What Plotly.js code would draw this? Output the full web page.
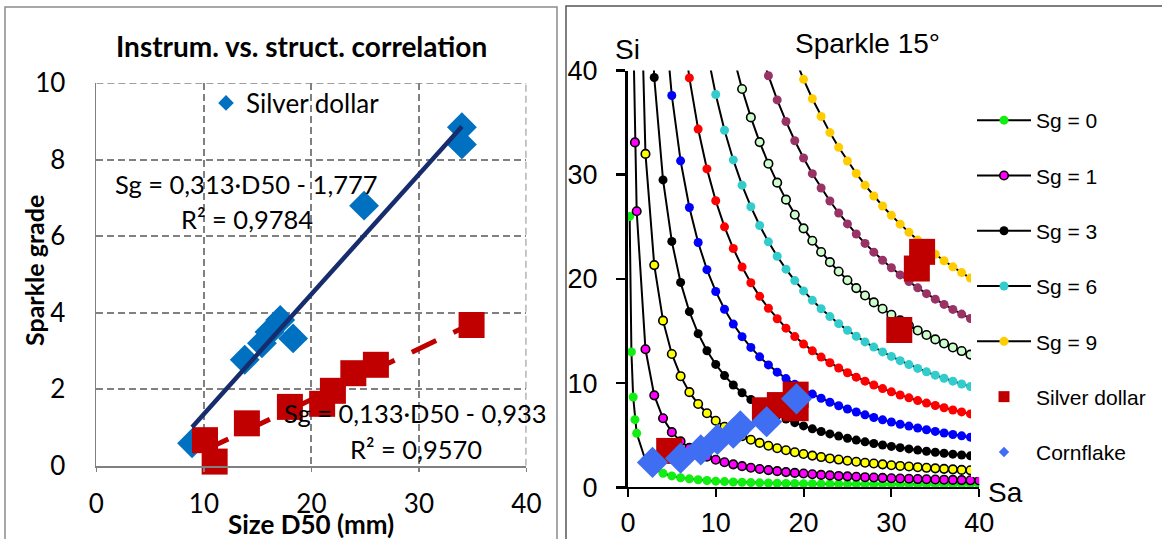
<!DOCTYPE html>
<html>
<head>
<meta charset="utf-8">
<script src="https://cdn.plot.ly/plotly-3.0.1.min.js"></script>
<style>
html,body{margin:0;padding:0;background:#fff;}
#chart{width:1162px;height:539px;}
</style>
</head>
<body>
<div id="chart"></div>
<script>
// ---------- Left panel data ----------
const d50Ticks = [0, 10, 20, 30, 40];
const sgTicks = [0, 2, 4, 6, 8, 10];
const diamondD50 = [8.9, 13.8, 15.4, 16.1, 17.1, 18.3, 24.9, 34.0, 34.0];
const diamondSg  = [0.59, 2.77, 3.2, 3.5, 3.81, 3.33, 6.8, 8.85, 8.4];
const squareD50  = [10.1, 11.0, 14.0, 18.0, 21.0, 22.0, 23.9, 26.0, 34.9];
const squareSg   = [0.67, 0.11, 1.11, 1.54, 1.62, 1.96, 2.42, 2.64, 3.68];
const trendBlueD50 = [8.9, 34.0];
const trendBlueSg  = [1.01, 8.87];
const trendRedD50  = [10.0, 34.9];
const trendRedSg   = [0.40, 3.71];

// ---------- Right panel data ----------
const saTicks = [0, 10, 20, 30, 40];
const siTicks = [0, 10, 20, 30, 40];
const SA = [0.2,0.4,0.6,0.8,1,2,3,4,5,6,7,8,9,10,11,12,13,14,15,16,17,18,19,20,21,22,23,24,25,26,27,28,29,30,31,32,33,34,35,36,37,38,39,40];
const siSg0 = [26.0,13.0,8.67,6.5,5.2,2.6,1.75,1.35,1.1,0.93,0.82,0.73,0.66,0.6,0.56,0.52,0.49,0.46,0.44,0.42,0.4,0.38,0.37,0.36,0.35,0.34,0.33,0.33,0.32,0.32,0.31,0.31,0.3,0.3,0.3,0.29,0.29,0.29,0.28,0.28,0.28,0.28,0.27,0.27];
const siSg1 = [44.2,33.1,26.5,13.25,8.83,6.63,5.3,4.42,3.79,3.31,2.94,2.65,2.41,2.21,2.04,1.89,1.77,1.66,1.56,1.47,1.39,1.33,1.26,1.2,1.15,1.1,1.06,1.02,0.98,0.95,0.91,0.88,0.85,0.83,0.8,0.78,0.76,0.74,0.72,0.7,0.68,0.66];
const siSg2 = [64,32,21.33,16,12.8,10.67,9.14,8,7.11,6.4,5.82,5.33,4.92,4.57,4.27,4,3.76,3.56,3.37,3.2,3.05,2.91,2.78,2.67,2.56,2.46,2.37,2.29,2.21,2.13,2.06,2,1.94,1.88,1.83,1.78,1.73,1.68,1.64,1.6];
const siSg3 = [59,39.33,29.5,23.6,19.67,16.86,14.75,13.11,11.8,10.73,9.83,9.08,8.43,7.87,7.38,6.94,6.56,6.21,5.9,5.62,5.36,5.13,4.92,4.72,4.54,4.37,4.21,4.07,3.93,3.81,3.69,3.58,3.47,3.37,3.28,3.19,3.11,3.03,2.95];
const siSg4 = [47,37.6,31.33,26.86,23.5,20.89,18.8,17.09,15.67,14.46,13.43,12.53,11.75,11.06,10.44,9.89,9.4,8.95,8.55,8.17,7.83,7.52,7.23,6.96,6.71,6.48,6.27,6.06,5.88,5.7,5.53,5.37,5.22,5.08,4.95,4.82,4.7];
const siSg5 = [45.83,39.29,34.38,30.56,27.5,25,22.92,21.15,19.64,18.33,17.19,16.18,15.28,14.47,13.75,13.1,12.5,11.96,11.46,11,10.58,10.19,9.82,9.48,9.17,8.87,8.59,8.33,8.09,7.86,7.64,7.43,7.24,7.05,6.88];
const siSg6 = [41.89,37.7,34.27,31.42,29,26.93,25.13,23.56,22.18,20.94,19.84,18.85,17.95,17.14,16.39,15.71,15.08,14.5,13.96,13.46,13,12.57,12.16,11.78,11.42,11.09,10.77,10.47,10.19,9.92,9.67,9.43];
const siSg7 = [41.42,38.23,35.5,33.13,31.06,29.24,27.61,26.16,24.85,23.67,22.59,21.61,20.71,19.88,19.12,18.41,17.75,17.14,16.57,16.03,15.53,15.06,14.62,14.2,13.81,13.43,13.08,12.74,12.43];
const siSg8 = [42.13,39.5,37.18,35.11,33.26,31.6,30.1,28.73,27.48,26.33,25.28,24.31,23.41,22.57,21.79,21.07,20.39,19.75,19.15,18.59,18.06,17.56,17.08,16.63,16.21,15.8];
const siSg9 = [41.21,39.15,37.29,35.59,34.04,32.63,31.32,30.12,29,27.96,27,26.1,25.26,24.47,23.73,23.03,22.37,21.75,21.16,20.61,20.08,19.58];
const sgLevels = [0,1,2,3,4,5,6,7,8,9];
const sgCurves = [siSg0, siSg1, siSg2, siSg3, siSg4, siSg5, siSg6, siSg7, siSg8, siSg9];
const sgColors = ['#11ee11','#ff00ff','#ffff00','#000000','#0000ff','#ff0000','#33cccc','#ccffcc','#993366','#ffcc00'];
const sgOutlined = [false,true,true,false,false,false,false,true,false,false];
const sgInLegend = [0,1,3,6,9];

const silverSa = [4.7, 15.6, 17.3, 19.1, 19.1, 30.9, 32.9, 33.5];
const silverSi = [3.5, 7.4, 7.9, 7.6, 8.9, 15.1, 21.0, 22.6];
const cornSa = [2.8, 6.0, 8.3, 10.2, 12.0, 12.8, 15.8, 19.2];
const cornSi = [2.4, 2.8, 3.6, 4.6, 5.2, 5.9, 6.3, 8.5];

// ---------- Styling helpers ----------
const W = 1162, H = 539;
const px = v => v / W;
const py = v => 1 - v / H;
const LATO = 'Lato, Carlito, sans-serif';
const ARIAL = 'Liberation Sans, Arial, sans-serif';
const GRID = '#808080';
const GDASH = '7px,4px';

const traces = [];

// Left panel traces
traces.push({
  type:'scatter', mode:'markers', x: diamondD50, y: diamondSg, xaxis:'x', yaxis:'y',
  name:'Silver dollar', legend:'legend2', showlegend:true, cliponaxis:false,
  marker:{symbol:'diamond', size:23, color:'#0070C0'}, hoverinfo:'x+y'
});
traces.push({
  type:'scatter', mode:'lines', x: trendRedD50, y: trendRedSg, xaxis:'x', yaxis:'y',
  showlegend:false, cliponaxis:false,
  line:{color:'#C00000', width:5, dash:'27px,19px'}, hoverinfo:'skip'
});
traces.push({
  type:'scatter', mode:'markers', x: squareD50, y: squareSg, xaxis:'x', yaxis:'y',
  name:'Cornflake', showlegend:false, cliponaxis:false,
  marker:{symbol:'square', size:26, color:'#C00000'}, hoverinfo:'x+y'
});
traces.push({
  type:'scatter', mode:'lines', x: trendBlueD50, y: trendBlueSg, xaxis:'x', yaxis:'y',
  showlegend:false, cliponaxis:false,
  line:{color:'#172c6d', width:4.5}, hoverinfo:'skip'
});

// Right panel curves
sgLevels.forEach((lev, i) => {
  const si = sgCurves[i];
  const sa = SA.slice(SA.length - si.length);
  traces.push({
    type:'scatter', mode:'lines+markers', x: sa, y: si, xaxis:'x2', yaxis:'y2',
    name:'Sg = ' + lev, legend:'legend', legendgroup:'g' + lev,
    showlegend: sgInLegend.indexOf(lev) >= 0,
    line:{color:'#000', width:2},
    marker:{color: sgColors[i], size: sgOutlined[i] ? 8.5 : 9,
            line:{color:'#000', width: sgOutlined[i] ? 1.6 : 0}},
    hoverinfo:'x+y'
  });
});
traces.push({
  type:'scatter', mode:'markers', x: silverSa, y: silverSi, xaxis:'x2', yaxis:'y2',
  name:'Silver dollar', showlegend:false, cliponaxis:false,
  marker:{symbol:'square', size:26, color:'#C00000'}, hoverinfo:'x+y'
});
traces.push({
  type:'scatter', mode:'markers', x: cornSa, y: cornSi, xaxis:'x2', yaxis:'y2',
  name:'Cornflake', showlegend:false, cliponaxis:false,
  marker:{symbol:'diamond', size:24, color:'#3f6ef2'}, hoverinfo:'x+y'
});
// legend entries for the right panel markers
traces.push({
  type:'scatter', mode:'markers', x:[null], y:[null], xaxis:'x2', yaxis:'y2',
  name:'Silver dollar', legend:'legend', legendgroup:'gs', showlegend:true,
  marker:{symbol:'square', size:11, color:'#C00000'}
});
traces.push({
  type:'scatter', mode:'markers', x:[null], y:[null], xaxis:'x2', yaxis:'y2',
  name:'Cornflake', legend:'legend', legendgroup:'gc', showlegend:true,
  marker:{symbol:'diamond', size:8, color:'#3f6ef2'}
});

const layout = {
  width: W, height: H,
  margin:{l:0, r:0, t:0, b:0},
  paper_bgcolor:'#fff', plot_bgcolor:'rgba(0,0,0,0)',
  hovermode:false,
  xaxis:{
    domain:[px(96.4), px(526.4)], anchor:'y', range:[0,40], tickvals:d50Ticks,
    showgrid:true, gridcolor:GRID, gridwidth:1.8, griddash:GDASH,
    showline:true, linecolor:GRID, linewidth:1.8, zeroline:false,
    ticks:'outside', ticklen:4, tickcolor:GRID, tickwidth:1.6,
    ticklabelstandoff:10,
    tickfont:{family:LATO, size:26, color:'#000'}, fixedrange:true
  },
  yaxis:{
    domain:[py(465.8), py(83.2)], anchor:'x', range:[0,10], tickvals:sgTicks,
    showgrid:true, gridcolor:GRID, gridwidth:1.8, griddash:GDASH,
    showline:true, linecolor:GRID, linewidth:1.8, zeroline:false,
    ticks:'', ticklabelstandoff:24,
    tickfont:{family:LATO, size:26, color:'#000'}, fixedrange:true
  },
  xaxis2:{
    domain:[px(627.9), px(979.2)], anchor:'y2', range:[0,40], tickvals:saTicks,
    showgrid:false, zeroline:false, showline:true, linecolor:'#000', linewidth:2,
    ticks:'outside', ticklen:8, tickwidth:2, tickcolor:'#000',
    ticklabelstandoff:2,
    tickfont:{family:ARIAL, size:27, color:'#000'}, fixedrange:true
  },
  yaxis2:{
    domain:[py(487.4), py(70.5)], anchor:'x2', range:[0,40], tickvals:siTicks,
    showgrid:false, zeroline:false, showline:true, linecolor:'#000', linewidth:3,
    ticks:'outside', ticklen:9, tickwidth:2.5, tickcolor:'#000',
    ticklabelstandoff:13,
    tickfont:{family:ARIAL, size:27, color:'#000'}, fixedrange:true
  },
  showlegend:true,
  legend:{
    x:px(972), xanchor:'left', y:py(100), yanchor:'top',
    bgcolor:'rgba(0,0,0,0)', borderwidth:0,
    font:{family:ARIAL, size:21, color:'#000'},
    itemwidth:54, tracegroupgap:25, traceorder:'grouped', itemclick:false, itemdoubleclick:false
  },
  legend2:{
    x:px(206), xanchor:'left', y:py(103), yanchor:'middle',
    bgcolor:'rgba(0,0,0,0)', borderwidth:0, itemsizing:'constant',
    font:{family:LATO, size:26, color:'#000'}, itemclick:false, itemdoubleclick:false
  },
  shapes:[
    {type:'rect', xref:'paper', yref:'paper', x0:px(5), x1:px(557), y0:-0.05, y1:py(7),
     line:{color:'#8c8c8c', width:1.5}, fillcolor:'rgba(0,0,0,0)', layer:'below'},
    {type:'rect', xref:'paper', yref:'paper', x0:px(566), x1:1.05, y0:-0.05, y1:py(6),
     line:{color:'#555', width:1.5}, fillcolor:'rgba(0,0,0,0)', layer:'below'},
    // dashed plot-area edges (grid lines at the range ends)
    {type:'line', xref:'x', yref:'y', x0:0, x1:40, y0:10, y1:10,
     line:{color:GRID, width:1.8, dash:GDASH}, layer:'below'},
    {type:'line', xref:'x', yref:'y', x0:40, x1:40, y0:0, y1:10,
     line:{color:GRID, width:1.8, dash:GDASH}, layer:'below'},
    {type:'rect', xref:'paper', yref:'paper', x0:px(971), x1:px(1160), y0:py(477), y1:py(62),
     line:{width:0}, fillcolor:'#fff', layer:'above'}
  ],
  annotations:[
    {text:'<b>Instrum. vs. struct. correlation</b>', xref:'paper', yref:'paper', x:px(301), y:py(46),
     xanchor:'center', yanchor:'middle', showarrow:false, font:{family:LATO, size:28, color:'#000'}},
    {text:'<b>Sparkle grade</b>', xref:'paper', yref:'paper', x:px(34), y:py(271), textangle:-90,
     xanchor:'center', yanchor:'middle', showarrow:false, font:{family:LATO, size:25, color:'#000'}},
    {text:'<b>Size D50 (mm)</b>', xref:'paper', yref:'paper', x:px(311), y:py(524),
     xanchor:'center', yanchor:'middle', showarrow:false, font:{family:LATO, size:26, color:'#000'}},
    {text:'Sg = 0,313·D50 - 1,777', xref:'paper', yref:'paper', x:px(246), y:py(184),
     xanchor:'center', yanchor:'middle', showarrow:false, font:{family:LATO, size:25.5, color:'#000'}},
    {text:'R² = 0,9784', xref:'paper', yref:'paper', x:px(247), y:py(219),
     xanchor:'center', yanchor:'middle', showarrow:false, font:{family:LATO, size:25.5, color:'#000'}},
    {text:'Sg = 0,133·D50 - 0,933', xref:'paper', yref:'paper', x:px(415), y:py(413),
     xanchor:'center', yanchor:'middle', showarrow:false, font:{family:LATO, size:25.5, color:'#000'}},
    {text:'R² = 0,9570', xref:'paper', yref:'paper', x:px(416), y:py(449),
     xanchor:'center', yanchor:'middle', showarrow:false, font:{family:LATO, size:25.5, color:'#000'}},
    {text:'Sparkle 15°', xref:'paper', yref:'paper', x:px(867), y:py(44),
     xanchor:'center', yanchor:'middle', showarrow:false, font:{family:ARIAL, size:28, color:'#000'}},
    {text:'Si', xref:'paper', yref:'paper', x:px(627.5), y:py(49),
     xanchor:'center', yanchor:'middle', showarrow:false, font:{family:ARIAL, size:28, color:'#000'}},
    {text:'Sa', xref:'paper', yref:'paper', x:px(1005.5), y:py(492),
     xanchor:'center', yanchor:'middle', showarrow:false, font:{family:ARIAL, size:28, color:'#000'}}
  ]
};

Plotly.newPlot('chart', traces, layout, {staticPlot:true, displayModeBar:false});
</script>
</body>
</html>
